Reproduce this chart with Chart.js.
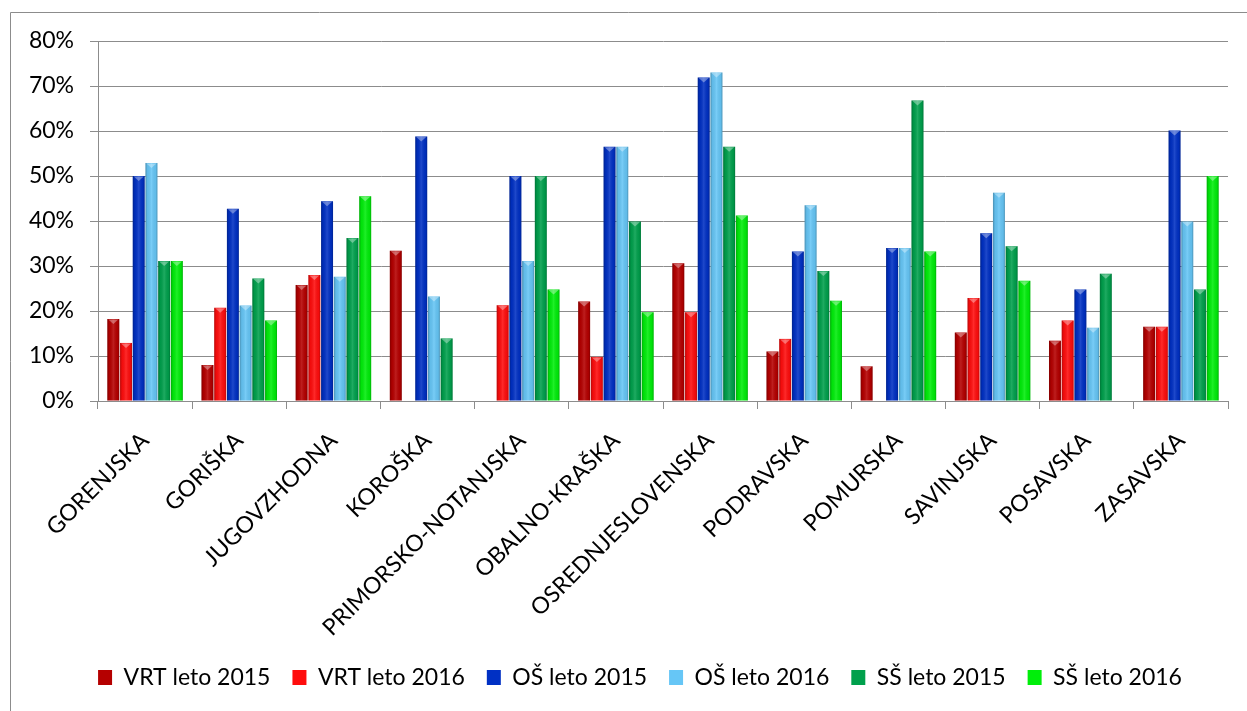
<!DOCTYPE html>
<html>
<head>
<meta charset="utf-8">
<script src="https://cdn.jsdelivr.net/npm/chart.js@4.4.1/dist/chart.umd.min.js"></script>
<style>
  html, body { margin: 0; padding: 0; background: #fff; overflow: hidden; }
  #wrap { position: absolute; left: 0; top: 0; width: 1247px; height: 711px; }
</style>
</head>
<body>
<div id="wrap"><canvas id="c" width="1247" height="711"></canvas></div>
<script>
// Regije
var regije = ['GORENJSKA', 'GORIŠKA', 'JUGOVZHODNA', 'KOROŠKA', 'PRIMORSKO-NOTANJSKA',
    'OBALNO-KRAŠKA', 'OSREDNJESLOVENSKA', 'PODRAVSKA', 'POMURSKA', 'SAVINJSKA',
    'POSAVSKA', 'ZASAVSKA'];

// Deleži v %
var vrt2015 = [18.2, 8.0, 25.8, 33.4, 0, 22.1, 30.6, 11.0, 7.7, 15.2, 13.4, 16.5];
var vrt2016 = [12.9, 20.7, 28.0, 0, 21.3, 9.8, 19.7, 13.8, 0, 22.9, 17.9, 16.5];
var os2015  = [50.0, 42.7, 44.4, 58.8, 50.0, 56.5, 71.9, 33.2, 34.0, 37.3, 24.8, 60.1];
var os2016  = [52.9, 21.2, 27.6, 23.2, 31.1, 56.5, 73.0, 43.5, 34.0, 46.3, 16.3, 39.9];
var ss2015  = [31.1, 27.2, 36.2, 13.9, 50.0, 39.9, 56.5, 28.9, 66.8, 34.4, 28.3, 24.8];
var ss2016  = [31.1, 17.9, 45.5, 0, 24.8, 19.7, 41.2, 22.3, 33.2, 26.7, 0, 50.0];

var yTicks = [0, 10, 20, 30, 40, 50, 60, 70, 80];

var FONT = 'Lato';

/* okvir slike */
var frame = {
    id: 'frame',
    beforeDraw: function (chart) {
        var ctx = chart.ctx;
        ctx.save();
        ctx.strokeStyle = '#8c8c8c';
        ctx.lineWidth = 1;
        ctx.beginPath();
        ctx.moveTo(10.5, 711);
        ctx.lineTo(10.5, 12.5);
        ctx.lineTo(1247, 12.5);
        ctx.stroke();
        ctx.restore();
    }
};

/* legenda je v izvirniku malo bolj desno */
var legendShift = {
    id: 'legendShift',
    afterLayout: function (chart) {
        if (!chart.legend) return;
        chart.legend.left += 26;
        chart.legend.right += 26;
    }
};

/* 3D videz stolpcev */
var shade = {
    id: 'shade',
    afterDatasetsDraw: function (chart) {
        var ctx = chart.ctx;
        ctx.save();
        chart.data.datasets.forEach(function (ds, di) {
            var meta = chart.getDatasetMeta(di);
            meta.data.forEach(function (bar) {
                var h = bar.base - bar.y;
                if (h < 1) return;
                var x0 = bar.x - bar.width / 2, w = bar.width;
                var g = ctx.createLinearGradient(x0, 0, x0 + w, 0);
                g.addColorStop(0, 'rgba(0,0,0,0.28)');
                g.addColorStop(0.18, 'rgba(0,0,0,0.05)');
                g.addColorStop(0.5, 'rgba(255,255,255,0.12)');
                g.addColorStop(0.85, 'rgba(0,0,0,0.05)');
                g.addColorStop(1, 'rgba(0,0,0,0.25)');
                ctx.fillStyle = g;
                ctx.fillRect(x0, bar.y, w, h);
                // trikotnik na vrhu
                ctx.fillStyle = 'rgba(255,255,255,0.35)';
                ctx.beginPath();
                ctx.moveTo(x0 + 1, bar.y + 0.5);
                ctx.lineTo(x0 + w - 1, bar.y + 0.5);
                ctx.lineTo(bar.x, bar.y + Math.min(5, h));
                ctx.closePath();
                ctx.fill();
            });
        });
        ctx.restore();
    }
};

function ds(label, data, color) {
    return {
        label: label,
        data: data,
        backgroundColor: color,
        borderWidth: 0,
        categoryPercentage: 0.81,
        barPercentage: 0.94
    };
}

new Chart(document.getElementById('c'), {
    type: 'bar',
    data: {
        labels: regije,
        datasets: [
            ds('VRT leto 2015', vrt2015, '#b50000'),
            ds('VRT leto 2016', vrt2016, '#ff0d0d'),
            ds('OŠ leto 2015', os2015, '#0030c4'),
            ds('OŠ leto 2016', os2016, '#66c6f6'),
            ds('SŠ leto 2015', ss2015, '#00a04c'),
            ds('SŠ leto 2016', ss2016, '#00ee0a')
        ]
    },
    plugins: [frame, legendShift, shade],
    options: {
        responsive: false,
        animation: false,
        layout: { padding: { left: 0, right: 19, top: 41, bottom: 12 } },
        plugins: {
            tooltip: { enabled: false },
            legend: {
                position: 'bottom',
                labels: {
                    boxWidth: 14,
                    boxHeight: 15,
                    padding: 22,
                    color: '#000',
                    font: { family: FONT, size: 23 }
                }
            }
        },
        scales: {
            x: {
                grid: { display: true, drawOnChartArea: false, offset: true, color: '#8c8c8c', tickLength: 8 },
                border: { color: '#8c8c8c' },
                ticks: {
                    color: '#000',
                    font: { family: FONT, size: 23 },
                    minRotation: 45,
                    maxRotation: 45,
                    autoSkip: false,
                    padding: 18
                },
                afterFit: function (s) { s.height = 243; }
            },
            y: {
                min: 0,
                max: 80,
                afterBuildTicks: function (s) {
                    s.ticks = yTicks.map(function (v) { return { value: v }; });
                },
                grid: { color: '#8c8c8c', tickLength: 8 },
                border: { color: '#8c8c8c' },
                ticks: {
                    color: '#000',
                    padding: 16,
                    font: { family: FONT, size: 23 },
                    callback: function (v) { return v + '%'; }
                },
                afterFit: function (s) { s.width = 98; }
            }
        }
    }
});
</script>
</body>
</html>
